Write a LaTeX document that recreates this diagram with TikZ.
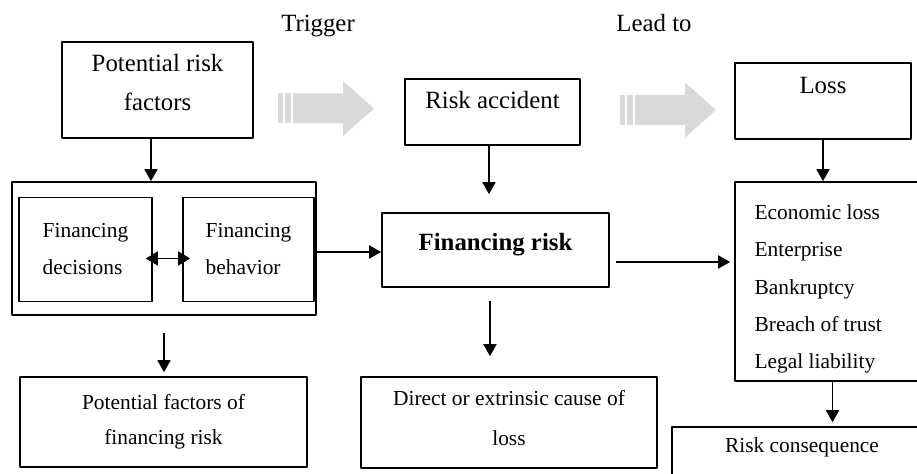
\documentclass[tikz,border=0pt]{standalone}
\usepackage{fontspec}
\setmainfont{Liberation Serif}
\usetikzlibrary{arrows.meta,positioning}
\definecolor{arrowgray}{HTML}{D9D9D9}
\tikzset{
  box/.style={draw, line width=0.8pt, inner sep=0pt},
  ttl/.style={inner sep=0pt, align=center, font=\fontsize{12.4}{19.5}\selectfont},
  txt/.style={inner sep=0pt, align=center, font=\fontsize{10.7}{18.5}\selectfont},
  arr/.style={-{Triangle[length=6pt,width=6.5pt]}, line width=0.9pt},
}
\begin{document}
\begin{tikzpicture}[x=0.5pt, y=-0.5pt, line join=round]
  \clip (0,0) rectangle (917,474);
  % captions
  \node[ttl, anchor=base] (trig) at (318,32) {Trigger};
  \node[ttl, anchor=base] (lead) at (654,32) {Lead to};
  % grey arrows
  \foreach \x/\y in {278/108.5, 620/110}
    {\fill[arrowgray] (\x,\y-15) rectangle +(5,30);
     \fill[arrowgray] (\x+7,\y-15) rectangle +(6,30);
     \fill[arrowgray] (\x+15,\y-15) -- (\x+65,\y-15) -- (\x+65,\y-27.5) -- (\x+96,\y)
       -- (\x+65,\y+27.5) -- (\x+65,\y+15) -- (\x+15,\y+15) -- cycle;}
  % top row
  \node[box, minimum width=95.5pt, minimum height=48pt] (pr) at (157.5,90) {};
  \node[ttl, below=6.4pt of pr.north] (pr-t) {Potential risk\\factors};
  \node[box, minimum width=87.5pt, minimum height=33pt] (ra) at (492.5,112) {};
  \node[ttl, below=6.4pt of ra.north] (ra-t) {Risk accident};
  \node[box, minimum width=88pt, minimum height=38pt] (loss) at (823,101) {};
  \node[ttl, below=7.2pt of loss.north] (loss-t) {Loss};
  % middle row
  \node[box, minimum width=152pt, minimum height=66.5pt] (fin) at (164,248.5) {};
  \node[box, txt, align=left, minimum width=66.5pt, minimum height=52pt] (fd) at (85.5,249.5) {Financing\\decisions};
  \node[box, txt, align=left, minimum width=65.5pt, minimum height=52pt] (fb) at (248.5,249.5) {Financing\\behavior};
  \node[box, minimum width=113.5pt, minimum height=37pt] (fr) at (495.5,250) {};
  \node[ttl, font=\fontsize{12.4}{19.5}\selectfont\bfseries, below=10.4pt of fr.north] (fr-t) {Financing risk};
  \node[box, minimum width=97.5pt, minimum height=99.5pt] (econ) at (832.5,281.5) {};
  \node[txt, align=left, font=\fontsize{10.7}{18.6}\selectfont, below right=11.65pt and 10pt of econ.north west] (econ-t)
    {Economic loss\\Enterprise\\Bankruptcy\\Breach of trust\\Legal liability};
  % bottom row
  \node[box, minimum width=143.5pt, minimum height=45pt] (pf) at (163.5,422) {};
  \node[txt, font=\fontsize{10.7}{17.5}\selectfont, below=9.15pt of pf.north] (pf-t) {Potential factors of\\financing risk};
  \node[box, minimum width=148pt, minimum height=45.5pt] (dc) at (509,422.5) {};
  \node[txt, font=\fontsize{10.7}{20}\selectfont, below=7.15pt of dc.north] (dc-t) {Direct or extrinsic cause of\\loss};
  \node[box, minimum width=130pt, minimum height=36.5pt] (cq) at (802,463.5) {};
  \node[txt, below=5.65pt of cq.north] (cq-t) {Risk consequence};
  % connectors
  \draw[arr] ([xshift=-3.25pt]pr.south) -- ([xshift=-3.25pt]pr.south |- fin.north);
  \draw[arr, {Triangle[length=6pt,width=7pt]}-{Triangle[length=6pt,width=7pt]}, shorten <=-3.5pt, shorten >=-4pt]
    ([yshift=-4.5pt]fd.east) -- ([yshift=-4.5pt]fb.west);
  \draw[arr] ([yshift=-1.75pt]fin.east) -- ([yshift=-1.75pt]fin.east -| fr.west);
  \draw[arr, shorten >=9pt] ([xshift=-1.75pt]ra.south) -- ([xshift=-1.75pt]ra.south |- fr.north);
  \draw[arr] (loss.south) -- (loss.south |- econ.north);
  \draw[arr, shorten <=3pt, shorten >=2pt] ([yshift=-6pt]fr.east) -- ([yshift=-6pt]fr.east -| econ.west);
  \draw[arr, shorten <=6.5pt, shorten >=10pt] ([xshift=-2.75pt]fr.south) -- ([xshift=-2.75pt]fr.south |- dc.north);
  \draw[arr, shorten <=8.5pt, shorten >=2pt] (fin.south) -- (fin.south |- pf.north);
  \draw[arr, shorten >=2pt] (econ.south) -- (econ.south |- cq.north);
\end{tikzpicture}
\end{document}
